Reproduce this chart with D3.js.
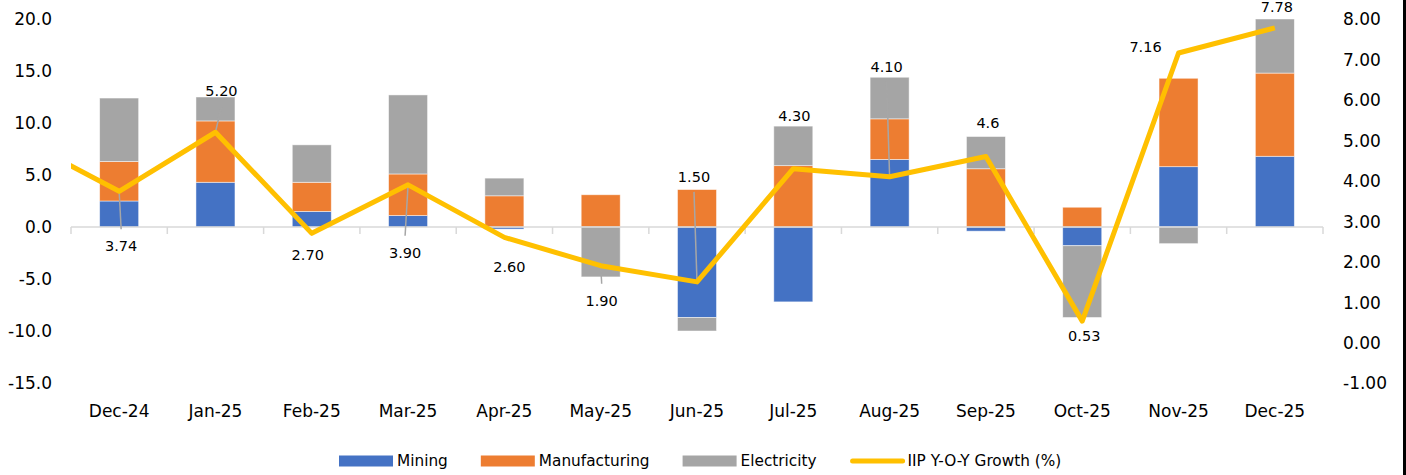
<!DOCTYPE html>
<html>
<head>
<meta charset="utf-8">
<script src="https://cdn.jsdelivr.net/npm/d3@7"></script>
<style>
  html, body { margin: 0; padding: 0; background: #fff; }
  svg { display: block; font-family: "DejaVu Sans", sans-serif; }
</style>
</head>
<body>
<svg id="chart" width="1406" height="475"></svg>
<script>
// ---------------- data ----------------
const months = ["Dec-24","Jan-25","Feb-25","Mar-25","Apr-25","May-25","Jun-25","Jul-25","Aug-25","Sep-25","Oct-25","Nov-25","Dec-25"];
const mining        = [2.5, 4.3, 1.5, 1.1, -0.2, 0.0, -8.7, -7.2, 6.5, -0.4, -1.8, 5.8, 6.8];
const manufacturing = [3.8, 5.9, 2.8, 4.0, 3.0, 3.1, 3.6, 5.9, 3.9, 5.6, 1.9, 8.5, 8.0];
const electricity   = [6.1, 2.3, 3.6, 7.6, 1.7, -4.8, -1.3, 3.8, 4.0, 3.1, -6.9, -1.6, 5.2];
const growth        = [3.74, 5.20, 2.70, 3.90, 2.60, 1.90, 1.50, 4.30, 4.10, 4.6, 0.53, 7.16, 7.78];
const growthLabels  = ["3.74","5.20","2.70","3.90","2.60","1.90","1.50","4.30","4.10","4.6","0.53","7.16","7.78"];
const prevGrowth    = 5.0;   // preceding month, line enters from the left edge (clipped)
const leftTicks  = [20, 15, 10, 5, 0, -5, -10, -15];
const rightTicks = [8, 7, 6, 5, 4, 3, 2, 1, 0, -1];
const seriesNames = ["Mining", "Manufacturing", "Electricity"];
const lineName = "IIP Y-O-Y Growth (%)";

// ---------------- layout / style ----------------
const colors = { Mining: "#4472c4", Manufacturing: "#ed7d31", Electricity: "#a5a5a5", line: "#ffc000" };
// data label offsets from the line vertex (px) and whether a leader line is drawn
const labelOffsets = [[2,55,1],[6,-41,1],[-4,22,0],[-3,68,1],[5,30,0],[1,35,1],[-3,-105,1],[1,-53,0],[-3,-110,1],[2,-34,0],[2,15,0],[-33,-6,0],[2,-21,0]];

const svg = d3.select("#chart");
const X0 = 71, X1 = 1323, YT = 19, YB = 383;

const x = d3.scaleBand().domain(months).range([X0, X1]).paddingInner(0.595).paddingOuter(0.2975);
const step = x.step();
const cx = m => x(m) + x.bandwidth() / 2;
const yL = d3.scaleLinear().domain([-15, 20]).range([YB, YT]);
const yR = d3.scaleLinear().domain([-1, 8]).range([YB, YT]);
const hyphen = f => v => f(v).replace("\u2212", "-");

// stacked bars
const rows = months.map((m, i) => ({ month: m, Mining: mining[i], Manufacturing: manufacturing[i], Electricity: electricity[i] }));
const stack = d3.stack().keys(seriesNames).offset(d3.stackOffsetDiverging);
const layers = stack(rows);

svg.append("g").selectAll("g").data(layers).join("g")
  .attr("fill", d => colors[d.key])
  .selectAll("rect").data(d => d).join("rect")
  .attr("x", d => x(d.data.month))
  .attr("width", x.bandwidth())
  .attr("y", d => yL(Math.max(d[0], d[1])))
  .attr("height", d => Math.abs(yL(d[0]) - yL(d[1])))
  .attr("stroke", "#ffffff").attr("stroke-width", 0.8).attr("stroke-opacity", 0.6);

// category axis at zero
const axisG = svg.append("g").attr("transform", `translate(0,${yL(0)})`);
axisG.append("line").attr("x1", X0).attr("x2", X1).attr("y1", 0).attr("y2", 0)
  .attr("stroke", "#d9d9d9").attr("stroke-width", 1.5);
axisG.selectAll("line.tick").data(d3.range(months.length + 1)).join("line")
  .attr("class", "tick")
  .attr("x1", i => X0 + i * step).attr("x2", i => X0 + i * step)
  .attr("y1", 0).attr("y2", 7)
  .attr("stroke", "#d9d9d9").attr("stroke-width", 1.5);

// category labels at bottom
svg.append("g").selectAll("text").data(months).join("text")
  .attr("x", d => cx(d)).attr("y", 411).attr("dy", "0.35em")
  .attr("text-anchor", "middle").attr("font-size", 17).attr("fill", "#000")
  .text(d => d);

// left axis
const lAxis = d3.axisLeft(yL).tickValues(leftTicks).tickFormat(hyphen(d3.format(".1f"))).tickSize(0).tickPadding(0);
const lg = svg.append("g").attr("transform", "translate(52,0)").call(lAxis);
lg.select(".domain").remove();
lg.selectAll("text").attr("font-size", 17).attr("font-family", "DejaVu Sans").attr("fill", "#000").attr("dy", "0.35em");

// right axis
const rAxis = d3.axisRight(yR).tickValues(rightTicks).tickFormat(hyphen(d3.format(".2f"))).tickSize(0).tickPadding(0);
const rg = svg.append("g").attr("transform", "translate(1343,0)").call(rAxis);
rg.select(".domain").remove();
rg.selectAll("text").attr("font-size", 17).attr("font-family", "DejaVu Sans").attr("fill", "#000").attr("dy", "0.35em");

// leader lines
const pts = months.map((m, i) => [cx(m), yR(growth[i])]);
svg.append("g").selectAll("line").data(pts.filter((p, i) => labelOffsets[i][2])).join("line")
  .each(function(p) {
    const i = pts.indexOf(p);
    const [dx, dy] = labelOffsets[i];
    const lx = p[0] + dx, ly = p[1] + dy;
    const endY = ly + (dy > 0 ? -17 : 15);
    d3.select(this).attr("x1", p[0]).attr("y1", p[1]).attr("x2", lx).attr("y2", endY);
  })
  .attr("stroke", "#a6a6a6").attr("stroke-width", 1.5);

// growth line (with clipped lead-in from the previous month)
svg.append("clipPath").attr("id", "plotClip").append("rect")
  .attr("x", X0).attr("y", 0).attr("width", X1 - X0).attr("height", 475);
const linePts = [[cx(months[0]) - step, yR(prevGrowth)], ...pts];
svg.append("path")
  .attr("clip-path", "url(#plotClip)")
  .attr("d", d3.line()(linePts))
  .attr("fill", "none").attr("stroke", colors.line).attr("stroke-width", 5)
  .attr("stroke-linejoin", "round");

// data labels
svg.append("g").selectAll("text").data(growthLabels).join("text")
  .attr("x", (d, i) => pts[i][0] + labelOffsets[i][0])
  .attr("y", (d, i) => pts[i][1] + labelOffsets[i][1])
  .attr("dy", "0.35em").attr("text-anchor", "middle")
  .attr("font-size", 14.5).attr("fill", "#000")
  .text(d => d);

// legend
const legend = svg.append("g");
const legItems = [...seriesNames.map(n => ({ name: n, type: "bar" })), { name: lineName, type: "line" }];
let lx = 339;
const LY = 461;
legItems.forEach(it => {
  if (it.type === "bar") {
    legend.append("rect").attr("x", lx).attr("y", LY - 5.5).attr("width", 54).attr("height", 11).attr("fill", colors[it.name]);
  } else {
    legend.append("line").attr("x1", lx + 3).attr("x2", lx + 53).attr("y1", LY).attr("y2", LY)
      .attr("stroke", colors.line).attr("stroke-width", 5).attr("stroke-linecap", "round");
  }
  const t = legend.append("text").attr("x", lx + 58).attr("y", LY).attr("dy", "0.35em")
    .attr("font-size", 15.3).attr("fill", "#000").text(it.name);
  lx += 58 + t.node().getComputedTextLength() + 33;
});

// right border
svg.append("rect").attr("x", 1403).attr("y", 0).attr("width", 3).attr("height", 475).attr("fill", "#000");
</script>
</body>
</html>
